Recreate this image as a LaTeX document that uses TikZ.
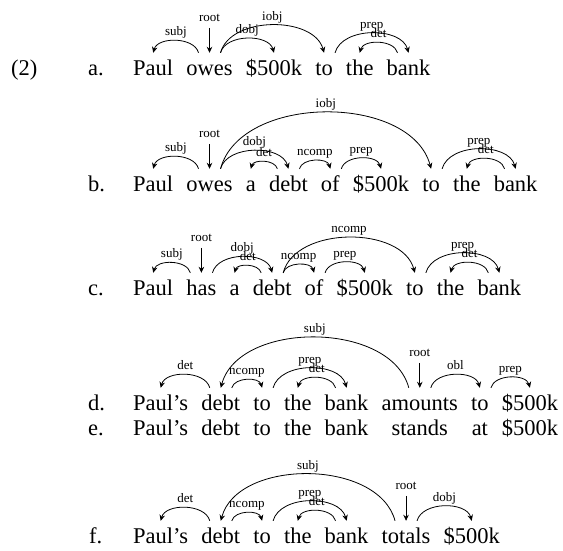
\documentclass[tikz,border=0pt]{standalone}
\usepackage{fontspec}
\setmainfont{Liberation Serif}
\usetikzlibrary{arrows.meta,positioning}
\tikzset{
  wd/.style={inner xsep=0pt, inner ysep=7pt, text height=15pt,
    font=\fontsize{22.5}{27}\selectfont},
  nx/.style={wd, base right=12.8pt of #1},
  dep/.style={line width=0.8pt, -{Stealth[length=6pt,width=5.5pt]}},
  rgt/.style={out=75, in=105, looseness=0.95},
  lft/.style={out=105, in=75, looseness=0.95},
  rel/.style={midway, anchor=base, yshift=5pt, inner sep=0pt, font=\fontsize{13}{15}\selectfont},
  rootlab/.style={anchor=base, yshift=6pt, inner sep=0pt, font=\fontsize{13}{15}\selectfont},
}
\begin{document}
\begin{tikzpicture}[x=1pt,y=1pt]
\useasboundingbox (0,0) rectangle (563,-550);

% example number and item letters
\node[wd, anchor=base west] (num) at (11,-75) {(2)};
\node[wd, anchor=base west] (ia) at (88,-75) {a.};
\node[wd, anchor=base west] (ib) at (88,-191) {b.};
\node[wd, anchor=base west] (ic) at (88,-295) {c.};
\node[wd, anchor=base west] (id) at (88,-410) {d.};
\node[wd, anchor=base west] (ie) at (88,-435) {e.};
\node[wd, anchor=base west] (if) at (89,-543) {f.};

% ---- (a) ----
\node[wd, anchor=base west] (a1) at (133,-75) {Paul};
\node[nx=a1] (a2) {owes};
\node[nx=a2] (a3) {\$500k};
\node[nx=a3] (a4) {to};
\node[nx=a4] (a5) {the};
\node[nx=a5] (a6) {bank};
\draw[dep] ([xshift=-11pt]a2.north) to[lft] node[rel]{subj} (a1.north);
\coordinate (ra) at ([yshift=25pt]a2.north);
\draw[dep] (ra) node[rootlab]{root} -- (a2.north);
\draw[dep] ([xshift=11pt]a2.north) to[rgt] node[rel]{dobj} (a3.north);
\draw[dep] ([xshift=11pt]a2.north) to[rgt] node[rel]{iobj} (a4.north);
\draw[dep] ([xshift=11pt]a4.north) to[rgt] node[rel]{prep} (a6.north);
\draw[dep] ([xshift=-11pt]a6.north) to[lft] node[rel]{det} (a5.north);

% ---- (b) ----
\node[wd, anchor=base west] (b1) at (133,-191) {Paul};
\node[nx=b1] (b2) {owes};
\node[nx=b2] (b3) {a};
\node[nx=b3] (b4) {debt};
\node[nx=b4] (b5) {of};
\node[nx=b5] (b6) {\$500k};
\node[nx=b6] (b7) {to};
\node[nx=b7] (b8) {the};
\node[nx=b8] (b9) {bank};
\draw[dep] ([xshift=-11pt]b2.north) to[lft] node[rel]{subj} (b1.north);
\coordinate (rb) at ([yshift=25pt]b2.north);
\draw[dep] (rb) node[rootlab]{root} -- (b2.north);
\draw[dep] ([xshift=11pt]b2.north) to[rgt] node[rel]{dobj} (b4.north);
\draw[dep] ([xshift=11pt]b2.north) to[rgt] node[rel]{iobj} (b7.north);
\draw[dep] ([xshift=-11pt]b4.north) to[lft] node[rel]{det} (b3.north);
\draw[dep] ([xshift=11pt]b4.north) to[rgt] node[rel]{ncomp} (b5.north);
\draw[dep] ([xshift=11pt]b5.north) to[rgt] node[rel]{prep} (b6.north);
\draw[dep] ([xshift=11pt]b7.north) to[rgt] node[rel]{prep} (b9.north);
\draw[dep] ([xshift=-11pt]b9.north) to[lft] node[rel]{det} (b8.north);

% ---- (c) ----
\node[wd, anchor=base west] (c1) at (133,-295) {Paul};
\node[nx=c1] (c2) {has};
\node[nx=c2] (c3) {a};
\node[nx=c3] (c4) {debt};
\node[nx=c4] (c5) {of};
\node[nx=c5] (c6) {\$500k};
\node[nx=c6] (c7) {to};
\node[nx=c7] (c8) {the};
\node[nx=c8] (c9) {bank};
\draw[dep] ([xshift=-11pt]c2.north) to[lft] node[rel]{subj} (c1.north);
\coordinate (rc) at ([yshift=25pt]c2.north);
\draw[dep] (rc) node[rootlab]{root} -- (c2.north);
\draw[dep] ([xshift=11pt]c2.north) to[rgt] node[rel]{dobj} (c4.north);
\draw[dep] ([xshift=-11pt]c4.north) to[lft] node[rel]{det} (c3.north);
\draw[dep] ([xshift=11pt]c4.north) to[rgt] node[rel]{ncomp} (c7.north);
\draw[dep] ([xshift=11pt]c4.north) to[rgt] node[rel]{ncomp} (c5.north);
\draw[dep] ([xshift=11pt]c5.north) to[rgt] node[rel]{prep} (c6.north);
\draw[dep] ([xshift=11pt]c7.north) to[rgt] node[rel]{prep} (c9.north);
\draw[dep] ([xshift=-11pt]c9.north) to[lft] node[rel]{det} (c8.north);

% ---- (d) ----
\node[wd, anchor=base west] (d1) at (133,-410) {Paul's};
\node[nx=d1] (d2) {debt};
\node[nx=d2] (d3) {to};
\node[nx=d3] (d4) {the};
\node[nx=d4] (d5) {bank};
\node[nx=d5] (d6) {amounts};
\node[nx=d6] (d7) {to};
\node[nx=d7] (d8) {\$500k};
\draw[dep] ([xshift=-11pt]d2.north) to[lft] node[rel]{det} (d1.north);
\draw[dep] ([xshift=-11pt]d6.north) to[lft] node[rel]{subj} (d2.north);
\draw[dep] ([xshift=11pt]d2.north) to[rgt] node[rel]{ncomp} (d3.north);
\draw[dep] ([xshift=11pt]d3.north) to[rgt] node[rel]{prep} (d5.north);
\draw[dep] ([xshift=-11pt]d5.north) to[lft] node[rel]{det} (d4.north);
\coordinate (rd) at ([yshift=25pt]d6.north);
\draw[dep] (rd) node[rootlab]{root} -- (d6.north);
\draw[dep] ([xshift=11pt]d6.north) to[rgt] node[rel]{obl} (d7.north);
\draw[dep] ([xshift=11pt]d7.north) to[rgt] node[rel]{prep} (d8.north);

% ---- (e) : last three words share the columns of (d) ----
\node[wd, anchor=base west] (e1) at (133,-435) {Paul's};
\node[nx=e1] (e2) {debt};
\node[nx=e2] (e3) {to};
\node[nx=e3] (e4) {the};
\node[nx=e4] (e5) {bank};
\node[wd, anchor=base] (e6) at (d6.base |- e1.base) {stands};
\node[wd, anchor=base] (e7) at (d7.base |- e1.base) {at};
\node[wd, anchor=base] (e8) at (d8.base |- e1.base) {\$500k};

% ---- (f) ----
\node[wd, anchor=base west] (f1) at (133,-543) {Paul's};
\node[nx=f1] (f2) {debt};
\node[nx=f2] (f3) {to};
\node[nx=f3] (f4) {the};
\node[nx=f4] (f5) {bank};
\node[nx=f5] (f6) {totals};
\node[nx=f6] (f7) {\$500k};
\draw[dep] ([xshift=-11pt]f2.north) to[lft] node[rel]{det} (f1.north);
\draw[dep] ([xshift=-11pt]f6.north) to[lft] node[rel]{subj} (f2.north);
\draw[dep] ([xshift=11pt]f2.north) to[rgt] node[rel]{ncomp} (f3.north);
\draw[dep] ([xshift=11pt]f3.north) to[rgt] node[rel]{prep} (f5.north);
\draw[dep] ([xshift=-11pt]f5.north) to[lft] node[rel]{det} (f4.north);
\coordinate (rf) at ([yshift=25pt]f6.north);
\draw[dep] (rf) node[rootlab]{root} -- (f6.north);
\draw[dep] ([xshift=11pt]f6.north) to[rgt] node[rel]{dobj} (f7.north);
\end{tikzpicture}
\end{document}
